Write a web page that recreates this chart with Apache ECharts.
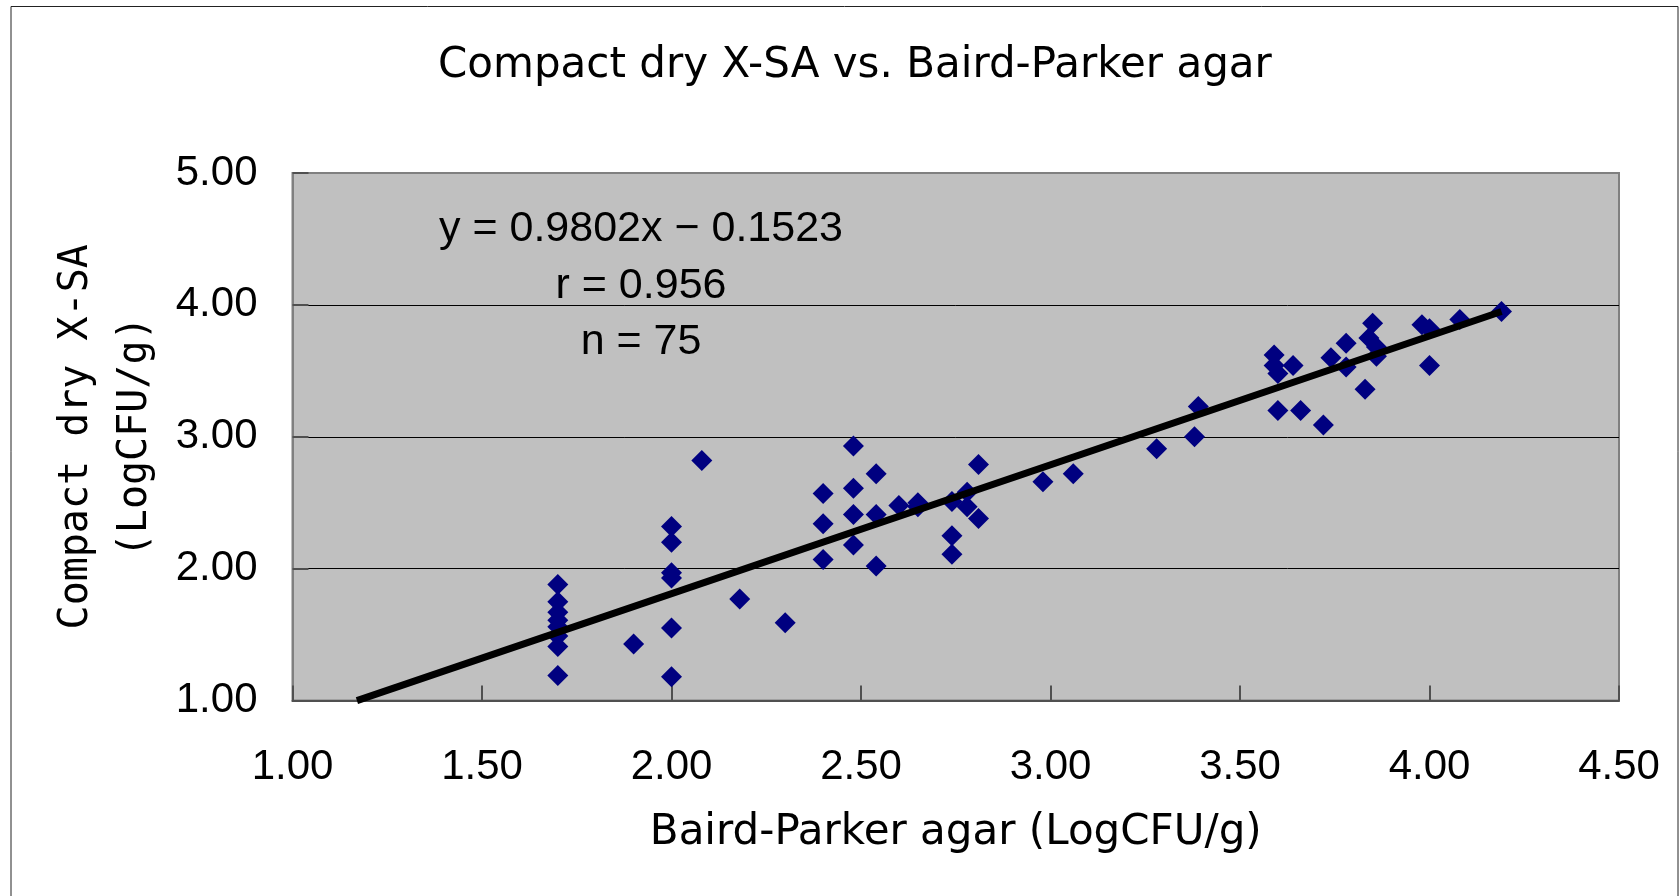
<!DOCTYPE html>
<html>
<head>
<meta charset="utf-8">
<script src="https://cdn.jsdelivr.net/npm/echarts@6/dist/echarts.min.js"></script>
<style>
html,body{margin:0;padding:0;background:#fff;}
#chart{width:1680px;height:896px;}
</style>
</head>
<body>
<div id="chart"></div>
<script>
// Data
const xValues = [
  1.70,1.70,1.70,1.70,1.70,1.70,1.70,1.70,
  1.90,
  2.00,2.00,2.00,2.00,2.00,2.00,
  2.08,2.18,2.30,
  2.40,2.40,2.40,
  2.48,2.48,2.48,2.48,
  2.54,2.54,2.54,
  2.60,
  2.65,2.65,
  2.74,2.74,2.74,
  2.78,2.78,
  2.81,2.81,
  2.98,3.06,3.28,3.38,3.39,
  3.59,3.59,3.60,3.60,
  3.64,3.66,3.72,3.74,
  3.78,3.78,3.83,3.84,3.85,3.86,3.86,
  3.98,4.00,4.00,4.08,4.19
];
const yValues = [
  1.88,1.75,1.67,1.61,1.56,1.49,1.41,1.19,
  1.43,
  2.32,2.20,1.97,1.93,1.55,1.18,
  2.82,1.77,1.59,
  2.57,2.34,2.07,
  2.93,2.61,2.41,2.18,
  2.72,2.41,2.02,
  2.48,
  2.50,2.47,
  2.51,2.25,2.11,
  2.58,2.47,
  2.79,2.38,
  2.66,2.72,2.91,3.00,3.23,
  3.62,3.54,3.48,3.20,
  3.54,3.20,3.09,3.60,
  3.53,3.71,3.36,3.75,3.86,3.68,3.61,
  3.85,3.82,3.54,3.89,3.95
];
// Trend line end points as drawn in the picture
const trendX = [1.17, 4.19];
const trendY = [1.00, 3.95];
const xTicks = ['1.00','1.50','2.00','2.50','3.00','3.50','4.00','4.50'];
const yTicks = ['1.00','2.00','3.00','4.00','5.00'];
const statLines = ['y = 0.9802x \u2212 0.1523', 'r = 0.956', 'n = 75'];
const titleText = 'Compact dry X-SA vs. Baird-Parker agar';
const xName = 'Baird-Parker agar (LogCFU/g)';
const yName = 'Compact dry X-SA\n(LogCFU/g)';

const points = xValues.map((x, i) => [x, yValues[i]]);
const trend = trendX.map((x, i) => [x, trendY[i]]);

const chart = echarts.init(document.getElementById('chart'), null, {renderer: 'canvas'});
const statY = [229, 286, 342];
chart.setOption({
  animation: false,
  backgroundColor: '#ffffff',
  title: {
    text: titleText,
    left: 433,
    top: 40,
    textStyle: {fontFamily: 'DejaVu Sans', fontSize: 42, fontWeight: 'normal', color: '#000'}
  },
  grid: {
    left: 292.5, top: 173, right: 61, bottom: 195.4,
    show: true, backgroundColor: '#c0c0c0', borderColor: '#808080', borderWidth: 2
  },
  xAxis: {
    type: 'value', min: 1, max: 4.5, interval: 0.5,
    name: xName, nameLocation: 'middle', nameGap: 111,
    nameTextStyle: {fontFamily: 'DejaVu Sans', fontSize: 42, color: '#000'},
    axisLine: {show: true, lineStyle: {color: '#505050', width: 2}},
    axisTick: {show: true, inside: true, length: 15, lineStyle: {color: '#505050', width: 2}},
    axisLabel: {
      margin: 46, color: '#000', fontFamily: 'Liberation Sans', fontSize: 42,
      formatter: (v) => xTicks[Math.round((v - 1) / 0.5)]
    },
    splitLine: {show: false}
  },
  yAxis: {
    type: 'value', min: 1, max: 5, interval: 1,
    name: yName, nameLocation: 'middle', nameRotate: 90, nameGap: 124,
    nameTextStyle: {fontFamily: 'DejaVu Sans Mono', fontSize: 40, lineHeight: 59, color: '#000'},
    axisLine: {show: true, lineStyle: {color: '#808080', width: 2}},
    axisTick: {show: true, inside: true, length: 16, lineStyle: {color: '#505050', width: 2}},
    axisLabel: {
      margin: 35, color: '#000', fontFamily: 'Liberation Sans', fontSize: 42,
      formatter: (v) => yTicks[Math.round(v - 1)]
    },
    splitLine: {show: true, showMinLine: false, showMaxLine: false, lineStyle: {color: '#000', width: 1}}
  },
  graphic: [
    {type: 'rect', shape: {x: 11, y: 6.5, width: 1667, height: 900}, style: {fill: 'none', stroke: '#222', lineWidth: 1}, silent: true, z: -1},
  ].concat(statLines.map((t, i) => ({
    type: 'text', x: 641, y: statY[i], z: 10,
    style: {text: t, align: 'center', verticalAlign: 'middle', fontFamily: 'Liberation Sans', fontSize: 43, fill: '#000'}
  }))),
  series: [
    {
      type: 'scatter', data: points, symbol: 'diamond', symbolSize: 21,
      itemStyle: {color: '#000080', opacity: 1}, z: 2
    },
    {
      type: 'line', data: trend, symbol: 'none', z: 3,
      lineStyle: {color: '#000', width: 7}
    }
  ]
});
</script>
</body>
</html>
